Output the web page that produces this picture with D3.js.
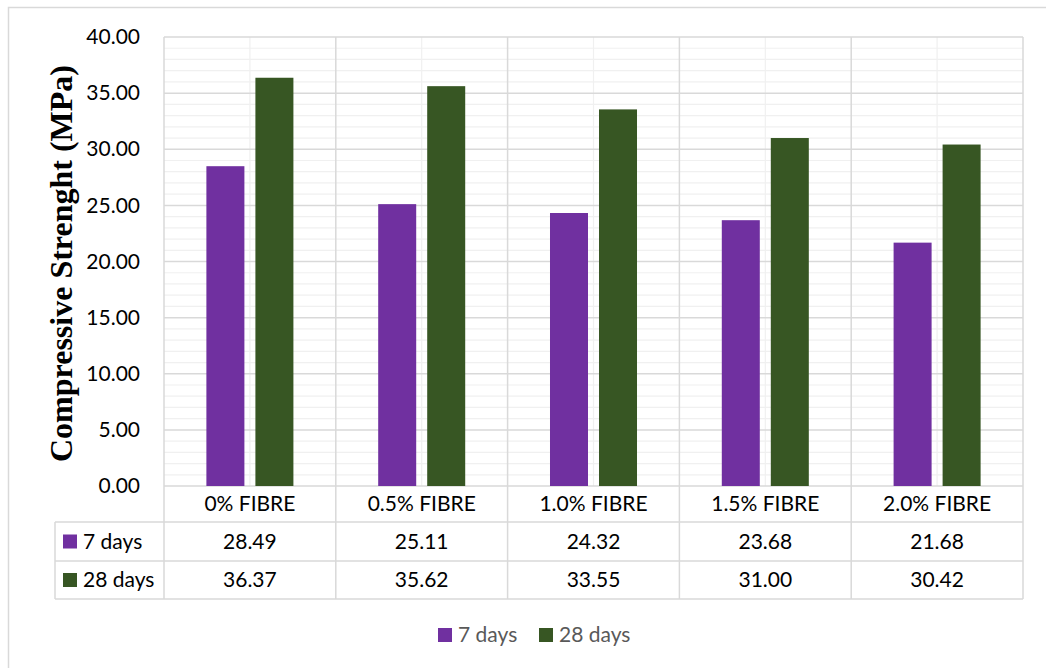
<!DOCTYPE html>
<html>
<head>
<meta charset="utf-8">
<script src="https://cdn.jsdelivr.net/npm/d3@7"></script>
<style>
  html, body { margin: 0; padding: 0; background: #ffffff; }
  svg { display: block; }
</style>
</head>
<body>
<svg id="chart" width="1046" height="668"></svg>
<script>
// Compressive strength of concrete by fibre content, 7 and 28 day cures
const categories = ["0% FIBRE", "0.5% FIBRE", "1.0% FIBRE", "1.5% FIBRE", "2.0% FIBRE"];
const seriesNames = ["7 days", "28 days"];
const days7 = [28.49, 25.11, 24.32, 23.68, 21.68];
const days28 = [36.37, 35.62, 33.55, 31.00, 30.42];
const seriesColors = ["#7030A0", "#375623"];
const yTickValues = [0, 5, 10, 15, 20, 25, 30, 35, 40];
const yTitle = "Compressive Strenght (MPa)";

const seriesValues = [days7, days28];

const svg = d3.select("#chart");
const W = 1046, H = 668;

const plot = { left: 164, right: 1023, top: 37, bottom: 486 };
const table = { left: 55, rowTops: [486, 522, 561, 599] };

const sansFont = "Lato, 'Open Sans', sans-serif";
const majorGrid = "#d9d9d9";
const minorGrid = "#f0f0f0";

// outer chart frame (runs off the right and bottom of the page)
svg.append("rect")
  .attr("x", 8.5).attr("y", 7.5)
  .attr("width", W + 20).attr("height", H + 20)
  .attr("fill", "#ffffff")
  .attr("stroke", majorGrid).attr("stroke-width", 1.5);

const x0 = d3.scaleBand().domain(categories).range([plot.left, plot.right]).padding(0);
const x1 = d3.scaleBand().domain(seriesNames).range([0, x0.bandwidth()])
  .paddingInner(0.2245).paddingOuter(0.865);
const y = d3.scaleLinear().domain([0, 40]).range([plot.bottom, plot.top]);

// minor horizontal gridlines every 1 MPa
const minorVals = d3.range(1, 40).filter(v => v % 5 !== 0);
svg.append("g").selectAll("line").data(minorVals).join("line")
  .attr("x1", plot.left).attr("x2", plot.right)
  .attr("y1", d => y(d)).attr("y2", d => y(d))
  .attr("stroke", minorGrid).attr("stroke-width", 1.2);

// minor vertical gridlines at category centres
svg.append("g").selectAll("line").data(categories).join("line")
  .attr("x1", d => x0(d) + x0.bandwidth() / 2).attr("x2", d => x0(d) + x0.bandwidth() / 2)
  .attr("y1", plot.top).attr("y2", plot.bottom)
  .attr("stroke", minorGrid).attr("stroke-width", 1.2);

// major horizontal gridlines
svg.append("g").selectAll("line").data(yTickValues).join("line")
  .attr("x1", plot.left).attr("x2", plot.right)
  .attr("y1", d => y(d)).attr("y2", d => y(d))
  .attr("stroke", majorGrid).attr("stroke-width", 1.5);

// major vertical lines at category boundaries, running through the data table
const boundaries = categories.map(c => x0(c)).concat([plot.right]);
svg.append("g").selectAll("line").data(boundaries).join("line")
  .attr("x1", d => d).attr("x2", d => d)
  .attr("y1", plot.top).attr("y2", table.rowTops[3])
  .attr("stroke", majorGrid).attr("stroke-width", 1.5);

// data table rules
svg.append("g").selectAll("line").data(table.rowTops.slice(1)).join("line")
  .attr("x1", table.left).attr("x2", plot.right)
  .attr("y1", d => d).attr("y2", d => d)
  .attr("stroke", majorGrid).attr("stroke-width", 1.5);
svg.append("line")
  .attr("x1", table.left).attr("x2", table.left)
  .attr("y1", table.rowTops[1]).attr("y2", table.rowTops[3])
  .attr("stroke", majorGrid).attr("stroke-width", 1.5);

// bars
const barGroups = svg.append("g").selectAll("g").data(categories).join("g")
  .attr("transform", d => `translate(${x0(d)},0)`);
barGroups.selectAll("rect")
  .data((c, i) => seriesNames.map((s, k) => ({ s, v: seriesValues[k][i], k })))
  .join("rect")
  .attr("x", d => x1(d.s))
  .attr("width", x1.bandwidth())
  .attr("y", d => y(d.v))
  .attr("height", d => y(0) - y(d.v))
  .attr("fill", d => seriesColors[d.k]);

// y axis tick labels
const yAxis = d3.axisLeft(y).tickValues(yTickValues).tickFormat(d3.format(".2f")).tickSize(0).tickPadding(0);
const yg = svg.append("g").attr("transform", "translate(140,0)").call(yAxis);
yg.select(".domain").remove();
yg.selectAll("text")
  .attr("font-family", sansFont).attr("font-size", 21).attr("fill", "#000000");

// y axis title
svg.append("text")
  .attr("transform", `translate(72,${(plot.top + plot.bottom) / 2 + 2}) rotate(-90)`)
  .attr("text-anchor", "middle")
  .attr("font-family", "'Liberation Serif', 'Times New Roman', serif")
  .attr("font-weight", "bold").attr("font-size", 32)
  .attr("fill", "#000000")
  .text(yTitle);

// category labels (table header row)
const rowMid = i => (table.rowTops[i] + table.rowTops[i + 1]) / 2;
svg.append("g").selectAll("text").data(categories).join("text")
  .attr("x", d => x0(d) + x0.bandwidth() / 2)
  .attr("y", rowMid(0))
  .attr("dy", "0.35em")
  .attr("text-anchor", "middle")
  .attr("font-family", sansFont).attr("font-size", 21).attr("fill", "#000000")
  .text(d => d);

// table value rows with legend keys
seriesNames.forEach((s, k) => {
  const cy = rowMid(k + 1);
  svg.append("rect")
    .attr("x", 63).attr("y", cy - 7).attr("width", 14).attr("height", 14)
    .attr("fill", seriesColors[k]);
  svg.append("text")
    .attr("x", 83).attr("y", cy).attr("dy", "0.35em")
    .attr("font-family", sansFont).attr("font-size", 21).attr("fill", "#000000")
    .text(s);
  svg.append("g").selectAll("text").data(categories).join("text")
    .attr("x", d => x0(d) + x0.bandwidth() / 2)
    .attr("y", cy).attr("dy", "0.35em")
    .attr("text-anchor", "middle")
    .attr("font-family", sansFont).attr("font-size", 21).attr("fill", "#000000")
    .text((d, i) => d3.format(".2f")(seriesValues[k][i]));
});

// bottom legend
const legendX = [438, 539];
const legendY = 635;
const lg = svg.append("g").selectAll("g").data(seriesNames).join("g")
  .attr("transform", (d, i) => `translate(${legendX[i]},${legendY})`);
lg.append("rect").attr("x", 0).attr("y", -7).attr("width", 14).attr("height", 14)
  .attr("fill", (d, i) => seriesColors[i]);
lg.append("text").attr("x", 20).attr("y", 0).attr("dy", "0.35em")
  .attr("font-family", sansFont).attr("font-size", 21).attr("fill", "#595959")
  .text(d => d);
</script>
</body>
</html>
